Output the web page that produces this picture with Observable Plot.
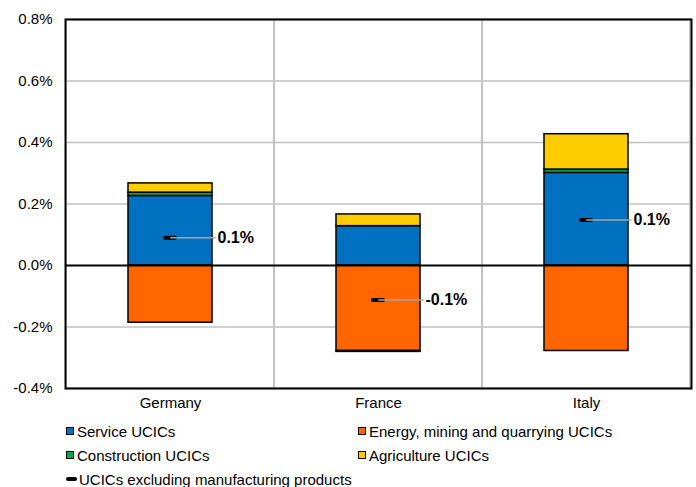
<!DOCTYPE html>
<html>
<head>
<meta charset="utf-8">
<script src="https://cdn.jsdelivr.net/npm/d3@7"></script>
<script src="https://cdn.jsdelivr.net/npm/@observablehq/plot@0.6"></script>
<style>
  html, body { margin: 0; padding: 0; background: #fff; }
  body { font-family: "Liberation Sans", Arial, sans-serif; color: #000; }
  #chart svg { display: block; }
  .legend {
    display: grid;
    grid-template-columns: 292px 292px;
    grid-auto-rows: 24px;
    padding-left: 66px;
    font-size: 15px;
  }
  .legend .item { display: flex; align-items: center; white-space: nowrap; }
  .legend .sw {
    width: 6px; height: 6px; border: 1.5px solid #000;
    margin-right: 3px; flex: none;
  }
  .legend .dash {
    width: 11px; height: 4px; border-radius: 2px; background: #000;
    margin-right: 2px; flex: none;
  }
</style>
</head>
<body>
<div id="chart"></div>
<div class="legend" id="legend"></div>
<script>
// Contributions to the change in UCICs, percentage points
const countries = ["Germany", "France", "Italy"];
const seriesNames = [
  "Service UCICs",
  "Energy, mining and quarrying UCICs",
  "Construction UCICs",
  "Agriculture UCICs"
];
const seriesColors = ["#0070C0", "#FF6600", "#00A651", "#FFCC00"];

const service      = [0.226, 0.128, 0.301];
const energy       = [-0.186, -0.278, -0.278];
const construction = [0.011, -0.003, 0.011];
const agriculture  = [0.030, 0.038, 0.115];
// UCICs excluding manufacturing products (total)
const totalExMfg   = [0.090, -0.112, 0.148];
const totalLabel   = "UCICs excluding manufacturing products";

const yTicks = [-0.4, -0.2, 0.0, 0.2, 0.4, 0.6, 0.8];

const seriesValues = [service, energy, construction, agriculture];
const rows = [];
countries.forEach((c, i) => {
  seriesNames.forEach((s, k) => rows.push({country: c, series: s, value: seriesValues[k][i]}));
});
const totals = countries.map((c, i) => ({country: c, total: totalExMfg[i]}));
const pct = v => v.toFixed(1) + "%";

const chart = Plot.plot({
  width: 696,
  height: 419,
  marginLeft: 65,
  marginRight: 5,
  marginTop: 19,
  marginBottom: 31,
  style: {fontFamily: "'Liberation Sans', Arial, sans-serif", fontSize: "15px", color: "#000", background: "#fff"},
  x: {type: "band", domain: countries, padding: 0, label: null, tickSize: 0, tickPadding: 9},
  y: {domain: [yTicks[0], yTicks[yTicks.length - 1]], ticks: yTicks, tickFormat: pct,
      label: null, tickSize: 0, tickPadding: 13},
  color: {domain: seriesNames, range: seriesColors},
  marks: [
    // horizontal gridlines
    Plot.ruleY(yTicks.filter(v => v !== 0), {stroke: "#c0c0c0", strokeWidth: 1.5}),
    // category separators
    Plot.cell(countries, {x: d => d, fill: "none", stroke: "#c0c0c0", strokeWidth: 1.5, inset: 0}),
    // stacked contributions
    Plot.barY(rows, {
      x: "country", y: "value", fill: "series", order: seriesNames,
      stroke: "#000", strokeWidth: 1.5, insetLeft: 62, insetRight: 62
    }),
    Plot.ruleY([0], {stroke: "#000", strokeWidth: 2}),
    Plot.frame({stroke: "#000", strokeWidth: 2}),
    // total marker
    Plot.tickY(totals, {x: "country", y: "total", stroke: "#000", strokeWidth: 4,
      strokeLinecap: "round", insetLeft: 99, insetRight: 99}),
    // leader line to the label
    Plot.tickY(totals, {x: "country", y: "total", stroke: "#a6a6a6", strokeWidth: 1.5,
      insetLeft: 104.3, insetRight: 58.5}),
    Plot.text(totals, {x: "country", y: "total", text: d => pct(d.total), dx: 47,
      textAnchor: "start", fontWeight: "bold", fontSize: 16, fill: "#000"})
  ]
});
document.getElementById("chart").append(chart);

// legend
const legend = document.getElementById("legend");
seriesNames.forEach((s, k) => {
  const item = document.createElement("div");
  item.className = "item";
  const sw = document.createElement("span");
  sw.className = "sw";
  sw.style.background = seriesColors[k];
  item.append(sw, document.createTextNode(s));
  legend.append(item);
});
const totItem = document.createElement("div");
totItem.className = "item";
const dash = document.createElement("span");
dash.className = "dash";
totItem.append(dash, document.createTextNode(totalLabel));
legend.append(totItem);
</script>
</body>
</html>
